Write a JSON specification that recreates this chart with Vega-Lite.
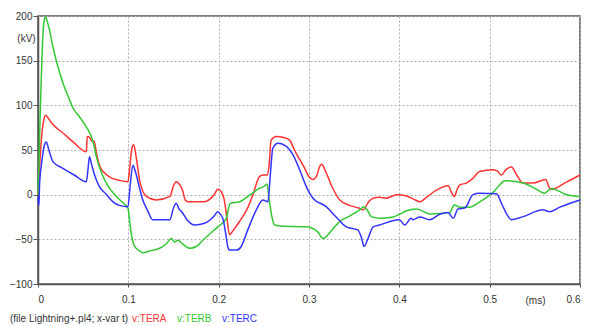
{
  "$schema": "https://vega.github.io/schema/vega-lite/v6.json",
  "width": 542,
  "height": 268,
  "autosize": "none",
  "padding": {"left": 38, "top": 16, "right": 16, "bottom": 42},
  "background": "white",
  "datasets": {
    "TERA": [
      {"t":0,"v":0},{"t":0.001,"v":15},{"t":0.002,"v":35},{"t":0.004,"v":65},{"t":0.0065,"v":84},{"t":0.0085,"v":89},{"t":0.011,"v":86},{"t":0.016,"v":79},{"t":0.0276,"v":69},{"t":0.04,"v":58},{"t":0.0535,"v":48},{"t":0.0545,"v":65},{"t":0.058,"v":63},{"t":0.0595,"v":60},{"t":0.062,"v":60},{"t":0.065,"v":45},{"t":0.068,"v":33},{"t":0.073,"v":25},{"t":0.079,"v":20},{"t":0.09,"v":16},{"t":0.0996,"v":14.5},{"t":0.1015,"v":30},{"t":0.104,"v":52},{"t":0.106,"v":56},{"t":0.109,"v":40},{"t":0.1125,"v":16},{"t":0.12,"v":-2},{"t":0.131,"v":-6},{"t":0.146,"v":-2},{"t":0.15,"v":10},{"t":0.153,"v":14.5},{"t":0.157,"v":11},{"t":0.16,"v":5},{"t":0.163,"v":-6},{"t":0.166,"v":-8},{"t":0.183,"v":-8},{"t":0.195,"v":0},{"t":0.199,"v":6},{"t":0.203,"v":3},{"t":0.206,"v":-5},{"t":0.209,"v":-25},{"t":0.212,"v":-45},{"t":0.216,"v":-40},{"t":0.223,"v":-30},{"t":0.231,"v":-17},{"t":0.238,"v":0},{"t":0.245,"v":20},{"t":0.249,"v":22},{"t":0.254,"v":22},{"t":0.256,"v":35},{"t":0.258,"v":61},{"t":0.264,"v":65},{"t":0.272,"v":64},{"t":0.2786,"v":61},{"t":0.283,"v":52},{"t":0.286,"v":46},{"t":0.295,"v":30},{"t":0.3,"v":20},{"t":0.304,"v":17},{"t":0.308,"v":20},{"t":0.312,"v":32},{"t":0.314,"v":34},{"t":0.318,"v":27},{"t":0.325,"v":10},{"t":0.334,"v":-6},{"t":0.345,"v":-12},{"t":0.355,"v":-15},{"t":0.36,"v":-17},{"t":0.366,"v":-8},{"t":0.371,"v":-4},{"t":0.378,"v":-3},{"t":0.385,"v":-4},{"t":0.397,"v":0},{"t":0.408,"v":-1.5},{"t":0.416,"v":-5},{"t":0.4226,"v":-8},{"t":0.43,"v":-3},{"t":0.441,"v":5},{"t":0.454,"v":10},{"t":0.458,"v":2},{"t":0.461,"v":-2},{"t":0.464,"v":6},{"t":0.467,"v":11},{"t":0.474,"v":13},{"t":0.481,"v":18},{"t":0.489,"v":26},{"t":0.504,"v":28},{"t":0.509,"v":26},{"t":0.513,"v":22},{"t":0.518,"v":28},{"t":0.524,"v":31},{"t":0.53,"v":22},{"t":0.537,"v":13},{"t":0.548,"v":13},{"t":0.562,"v":17},{"t":0.566,"v":8},{"t":0.568,"v":6},{"t":0.585,"v":14},{"t":0.6,"v":22}
    ],
    "TERB": [
      {"t":0,"v":0},{"t":0.001,"v":30},{"t":0.002,"v":75},{"t":0.0037,"v":132},{"t":0.0055,"v":180},{"t":0.0075,"v":198},{"t":0.0085,"v":199},{"t":0.0105,"v":193},{"t":0.0128,"v":184},{"t":0.016,"v":168},{"t":0.02,"v":151},{"t":0.0276,"v":125},{"t":0.035,"v":106},{"t":0.0387,"v":97},{"t":0.046,"v":87},{"t":0.0535,"v":76},{"t":0.059,"v":65},{"t":0.062,"v":55},{"t":0.0646,"v":42.5},{"t":0.07,"v":25},{"t":0.0756,"v":13},{"t":0.0867,"v":-2},{"t":0.095,"v":-10},{"t":0.0996,"v":-15},{"t":0.1015,"v":-30},{"t":0.104,"v":-48},{"t":0.107,"v":-58},{"t":0.1125,"v":-63},{"t":0.116,"v":-65},{"t":0.1236,"v":-63},{"t":0.1347,"v":-60},{"t":0.142,"v":-55},{"t":0.1476,"v":-49},{"t":0.151,"v":-53},{"t":0.155,"v":-51},{"t":0.16,"v":-55},{"t":0.168,"v":-60},{"t":0.175,"v":-58},{"t":0.1826,"v":-51},{"t":0.19,"v":-44},{"t":0.199,"v":-36},{"t":0.2085,"v":-26.5},{"t":0.211,"v":-15},{"t":0.213,"v":-9.6},{"t":0.223,"v":-8},{"t":0.235,"v":0},{"t":0.245,"v":7},{"t":0.25,"v":9},{"t":0.2535,"v":12},{"t":0.2557,"v":-4},{"t":0.259,"v":-25},{"t":0.262,"v":-34},{"t":0.268,"v":-35},{"t":0.297,"v":-36},{"t":0.31,"v":-42},{"t":0.3155,"v":-49},{"t":0.325,"v":-40},{"t":0.334,"v":-30},{"t":0.345,"v":-24},{"t":0.356,"v":-17},{"t":0.3606,"v":-13.4},{"t":0.365,"v":-18},{"t":0.369,"v":-24.6},{"t":0.378,"v":-26.5},{"t":0.393,"v":-25},{"t":0.4,"v":-22},{"t":0.408,"v":-18},{"t":0.419,"v":-16},{"t":0.4337,"v":-21.6},{"t":0.456,"v":-20},{"t":0.459,"v":-14},{"t":0.461,"v":-11.5},{"t":0.467,"v":-14},{"t":0.478,"v":-14},{"t":0.489,"v":-8},{"t":0.5056,"v":4.5},{"t":0.512,"v":12},{"t":0.5167,"v":15.7},{"t":0.537,"v":13},{"t":0.55,"v":7},{"t":0.561,"v":1.6},{"t":0.568,"v":7},{"t":0.585,"v":0},{"t":0.6,"v":-2}
    ],
    "TERC": [
      {"t":0,"v":-3},{"t":0.001,"v":-12},{"t":0.0018,"v":13},{"t":0.004,"v":35},{"t":0.007,"v":55},{"t":0.0092,"v":59},{"t":0.012,"v":50},{"t":0.0165,"v":37},{"t":0.0276,"v":29.5},{"t":0.04,"v":22},{"t":0.0535,"v":14.5},{"t":0.0555,"v":30},{"t":0.057,"v":42.5},{"t":0.059,"v":35},{"t":0.061,"v":27.7},{"t":0.064,"v":18},{"t":0.068,"v":9},{"t":0.075,"v":1},{"t":0.083,"v":-8},{"t":0.09,"v":-12},{"t":0.0996,"v":-13.4},{"t":0.102,"v":10},{"t":0.105,"v":33},{"t":0.108,"v":25},{"t":0.1125,"v":7},{"t":0.116,"v":-6},{"t":0.121,"v":-17},{"t":0.127,"v":-28},{"t":0.146,"v":-28},{"t":0.15,"v":-15},{"t":0.153,"v":-9.6},{"t":0.156,"v":-16},{"t":0.159,"v":-19},{"t":0.165,"v":-28},{"t":0.1734,"v":-34},{"t":0.1845,"v":-32},{"t":0.195,"v":-24},{"t":0.199,"v":-19},{"t":0.202,"v":-22},{"t":0.205,"v":-28},{"t":0.208,"v":-45},{"t":0.21,"v":-58},{"t":0.212,"v":-62},{"t":0.22,"v":-62},{"t":0.225,"v":-58},{"t":0.232,"v":-40},{"t":0.2417,"v":-17},{"t":0.249,"v":-6},{"t":0.2546,"v":-8},{"t":0.257,"v":20},{"t":0.26,"v":52},{"t":0.2657,"v":57.6},{"t":0.275,"v":54},{"t":0.282,"v":45},{"t":0.29,"v":27},{"t":0.297,"v":9},{"t":0.3044,"v":-4},{"t":0.319,"v":-13.4},{"t":0.33,"v":-25},{"t":0.3414,"v":-36},{"t":0.354,"v":-39.5},{"t":0.358,"v":-48},{"t":0.361,"v":-58},{"t":0.365,"v":-50},{"t":0.371,"v":-36},{"t":0.378,"v":-34},{"t":0.4,"v":-28},{"t":0.406,"v":-34},{"t":0.413,"v":-26.5},{"t":0.415,"v":-28},{"t":0.4226,"v":-25},{"t":0.4337,"v":-28},{"t":0.4447,"v":-22},{"t":0.454,"v":-20},{"t":0.4595,"v":-26.5},{"t":0.465,"v":-16},{"t":0.4724,"v":-15},{"t":0.4816,"v":0},{"t":0.489,"v":1.5},{"t":0.5075,"v":1},{"t":0.513,"v":-9.6},{"t":0.518,"v":-20},{"t":0.524,"v":-28},{"t":0.537,"v":-24.6},{"t":0.559,"v":-17},{"t":0.5665,"v":-19},{"t":0.5776,"v":-14},{"t":0.6,"v":-6}
    ]
  },
  "layer": [
    {
      "data": {"name": "TERA"},
      "transform": [{"calculate": "'v:TERA'", "as": "series"}],
      "mark": {"type": "line", "interpolate": "monotone", "strokeWidth": 1.5},
      "encoding": {
        "x": {"field": "t", "type": "quantitative"},
        "y": {"field": "v", "type": "quantitative"},
        "color": {"field": "series", "type": "nominal"}
      }
    },
    {
      "data": {"name": "TERB"},
      "transform": [{"calculate": "'v:TERB'", "as": "series"}],
      "mark": {"type": "line", "interpolate": "monotone", "strokeWidth": 1.5},
      "encoding": {
        "x": {"field": "t", "type": "quantitative"},
        "y": {"field": "v", "type": "quantitative"},
        "color": {"field": "series", "type": "nominal"}
      }
    },
    {
      "data": {"name": "TERC"},
      "transform": [{"calculate": "'v:TERC'", "as": "series"}],
      "mark": {"type": "line", "interpolate": "monotone", "strokeWidth": 1.5},
      "encoding": {
        "x": {"field": "t", "type": "quantitative"},
        "y": {"field": "v", "type": "quantitative"},
        "color": {"field": "series", "type": "nominal"}
      }
    }
  ],
  "resolve": {"scale": {"color": "shared"}},
  "encoding": {
    "x": {
      "field": "t", "type": "quantitative",
      "scale": {"domain": [0, 0.6], "nice": false, "zero": false},
      "axis": {
        "values": [0, 0.1, 0.2, 0.3, 0.4, 0.5, 0.6],
        "format": ".1~f",
        "title": "(ms)",
        "titleX": 497, "titleY": 16, "titleAlign": "center", "titleBaseline": "middle",
        "titleFontWeight": "normal", "titleFontSize": 10, "titleColor": "#333", "titleFont": "Liberation Sans",
        "tickSize": 3, "labelPadding": 7
      }
    },
    "y": {
      "field": "v", "type": "quantitative",
      "scale": {"domain": [-100, 200], "nice": false, "zero": false},
      "axis": {
        "values": [-100, -50, 0, 50, 100, 150, 200],
        "title": "(kV)",
        "titleAngle": 0, "titleX": -12, "titleY": 22, "titleAlign": "center", "titleBaseline": "middle",
        "titleFontWeight": "normal", "titleFontSize": 10, "titleColor": "#333", "titleFont": "Liberation Sans",
        "tickSize": 5, "labelPadding": 1
      }
    },
    "color": {
      "field": "series", "type": "nominal",
      "scale": {"domain": ["v:TERA", "v:TERB", "v:TERC"], "range": ["#ff3333", "#33c833", "#3333ff"]},
      "legend": {
        "orient": "none", "legendX": -28, "legendY": 298,
        "direction": "horizontal",
        "title": "(file Lightning+.pl4; x-var t)",
        "titleOrient": "left", "titleFontWeight": "normal", "titleFontSize": 10, "titleColor": "#333", "titleFont": "Liberation Sans", "titlePadding": -7,
        "labelFontSize": 10, "labelFont": "Liberation Sans", "labelOffset": 0,
        "symbolSize": 0, "symbolStrokeWidth": 0, "symbolOpacity": 0,
        "columnPadding": -10,
        "encode": {"labels": {"update": {"fill": {"scale": "color", "field": "value"}}}}
      }
    }
  },
  "config": {
    "view": {"stroke": "#555", "strokeWidth": 1.5},
    "axis": {
      "grid": true, "gridColor": "#b0b0b0", "gridDash": [2, 2], "gridWidth": 1,
      "domainColor": "#555", "domainWidth": 1.5, "tickColor": "#555",
      "labelFont": "Liberation Sans", "labelFontSize": 10, "labelColor": "#333"
    }
  }
}
